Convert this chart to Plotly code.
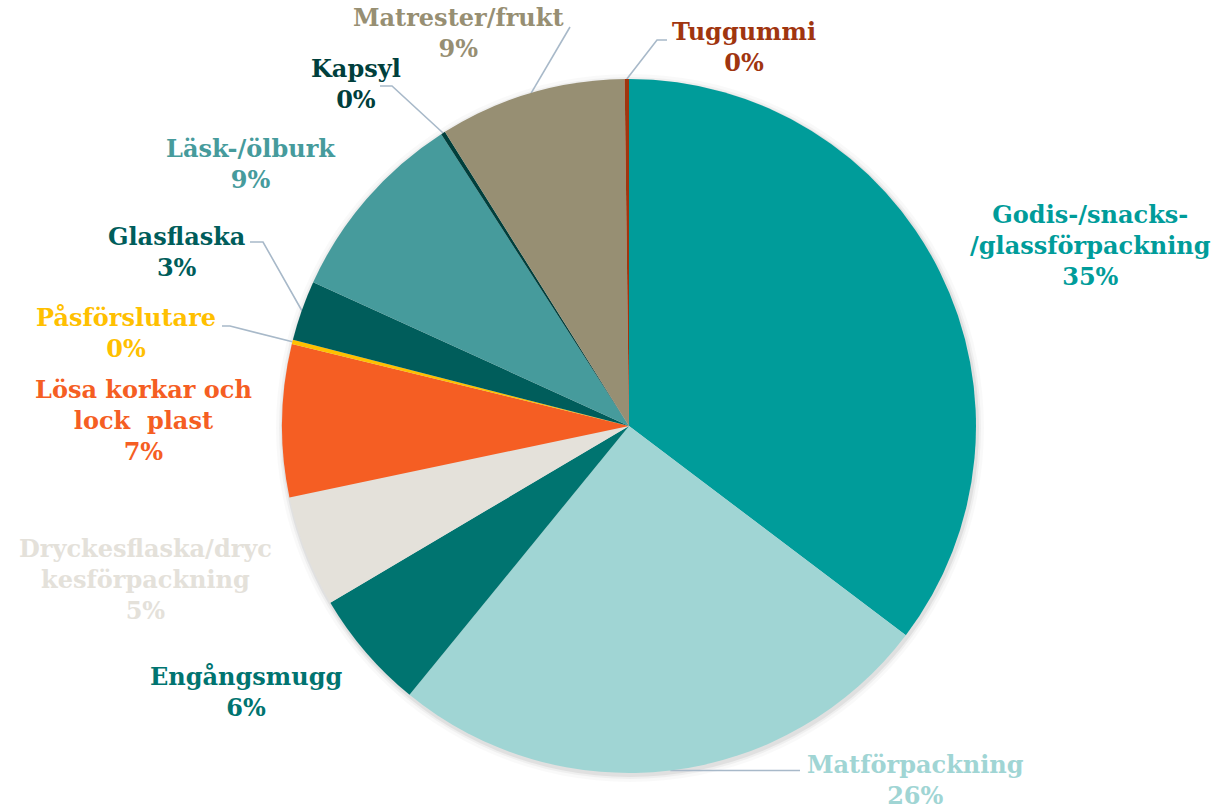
import math
import plotly.graph_objects as go

# Slice data, clockwise from 12 o'clock
categories = ['Godis-/snacks-/glassförpackning', 'Matförpackning', 'Engångsmugg',
              'Dryckesflaska/dryckesförpackning', 'Lösa korkar och lock plast', 'Påsförslutare',
              'Glasflaska', 'Läsk-/ölburk', 'Kapsyl', 'Matrester/frukt', 'Tuggummi']
values = [35.3, 25.6, 5.6, 5.2, 7.1, 0.2, 2.8, 9.1, 0.2, 8.7, 0.2]
colors = ['#009C9A', '#A0D5D4', '#007470', '#E4E1DA', '#F55E23', '#FFC000',
          '#005D5B', '#469B9C', '#003F3C', '#978F73', '#A0350F']
label_lines = [['Godis-/snacks-', '/glassförpackning'], ['Matförpackning'], ['Engångsmugg'],
               ['Dryckesflaska/dryc', 'kesförpackning'], ['Lösa korkar och', 'lock  plast'],
               ['Påsförslutare'], ['Glasflaska'], ['Läsk-/ölburk'], ['Kapsyl'],
               ['Matrester/frukt'], ['Tuggummi']]

W, H = 1219, 807
cx, cy, r = 629, 426, 347

# label centres (pixels) and leader elbows, layout only
label_pos = [(1090, 245), (915, 780), (246, 692), (145, 579), (143, 420), (126, 333),
             (176, 252), (251, 164), (356, 84), (458, 33), (744, 47)]
leaders = {1: [(800, None)], 5: [(230, 326), (222, 326)], 6: [(263, 242), (250, 242)],
           8: [(392, 86), (380, 86)], 9: [(570, 27)], 10: [(657, 40), (667, 40)]}

fig = go.Figure()

# soft shadow under the pie
for k, op in [(7, 0.025), (4, 0.04), (2, 0.06)]:
    fig.add_shape(type='circle', xref='x', yref='y', x0=cx - r - k + 1, x1=cx + r + k + 1,
                  y0=cy - r - k + 2, y1=cy + r + k + 2, fillcolor='rgba(0,0,0,%s)' % op,
                  line_width=0, layer='below')

fig.add_trace(go.Pie(labels=categories, values=values, sort=False, direction='clockwise',
                     rotation=0, marker=dict(colors=colors, line=dict(width=0)),
                     textinfo='none', hoverinfo='label+percent', showlegend=False,
                     domain=dict(x=[(cx - r) / W, (cx + r) / W],
                                 y=[(H - cy - r) / H, (H - cy + r) / H])))

total = sum(values)
cum = 0
for i, v in enumerate(values):
    mid = (cum + v / 2) / total * 2 * math.pi
    cum += v
    px_, py_ = cx + r * math.sin(mid), cy - r * math.cos(mid)
    if i in leaders:
        xs, ys = [px_], [py_]
        for ex, ey in leaders[i]:
            xs.append(ex)
            ys.append(py_ if ey is None else ey)
        fig.add_trace(go.Scatter(x=xs, y=ys, mode='lines', line=dict(color='#A8B9C9', width=1.6),
                                 hoverinfo='skip', showlegend=False))
    pct = '%d%%' % int(v + 0.5)
    text = '<br>'.join('<b>%s</b>' % s for s in label_lines[i] + [pct])
    lx, ly = label_pos[i]
    fig.add_annotation(x=lx, y=ly, xref='x', yref='y', text=text, showarrow=False,
                       align='center', xanchor='center', yanchor='middle',
                       font=dict(family='DejaVu Serif', size=24, color=colors[i]))

fig.update_layout(width=W, height=H, margin=dict(l=0, r=0, t=0, b=0),
                  paper_bgcolor='white', plot_bgcolor='rgba(0,0,0,0)',
                  xaxis=dict(range=[0, W], visible=False, fixedrange=True),
                  yaxis=dict(range=[H, 0], visible=False, fixedrange=True))

# drop the page's default body margin so the figure sits at the window's corner
fig.write_html('out.html', config={'displayModeBar': False},
               post_script="document.body.style.margin='0';")
